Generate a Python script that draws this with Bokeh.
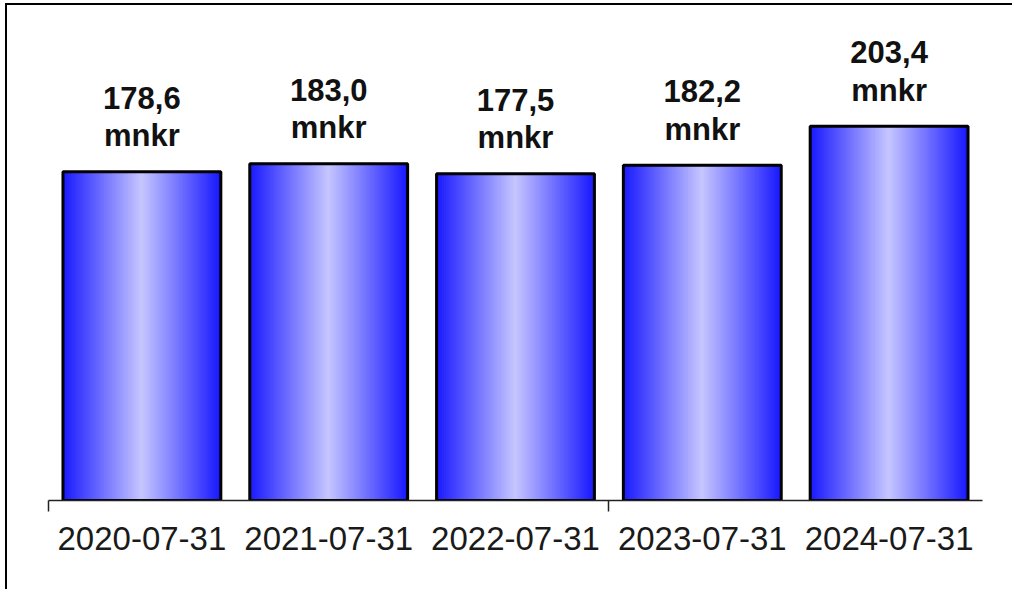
import numpy as np
from bokeh.plotting import figure
from bokeh.models import Range1d, FixedTicker, ColumnDataSource
from bokeh.core.properties import value
from bokeh.embed import file_html
from bokeh.resources import INLINE

# ---- data ----
categories = ["2020-07-31", "2021-07-31", "2022-07-31", "2023-07-31", "2024-07-31"]
values = [178.6, 183.0, 177.5, 182.2, 203.4]
value_labels = ["178,6", "183,0", "177,5", "182,2", "203,4"]
unit_label = "mnkr"

xs = list(range(len(categories)))
bar_w = 0.845

p = figure(width=1007, height=586, output_backend="svg", toolbar_location=None,
           x_range=Range1d(-0.5, len(categories) - 0.5), y_range=Range1d(0, 269),
           min_border_left=41, min_border_right=32, min_border_top=0, min_border_bottom=91,
           background_fill_color="white", border_fill_color="white",
           styles={"border-left": "2px solid black", "border-top": "2px solid black",
                   "margin-left": "5px", "margin-top": "3px"})
p.outline_line_color = None
p.xgrid.visible = False
p.ygrid.visible = False
p.yaxis.visible = False

# gradient strips
N = 80
edge = np.array([24, 24, 255], dtype=float)
center = np.array([198, 198, 255], dtype=float)
sx, stop, scol = [], [], []
for i, v in zip(xs, values):
    for k in range(N):
        u = (k + 0.5) / N
        t = abs(2 * u - 1)
        c = center + (edge - center) * t
        sx.append(i - bar_w / 2 + u * bar_w)
        stop.append(v)
        scol.append("#%02x%02x%02x" % tuple(int(round(q)) for q in c))
src = ColumnDataSource(dict(x=sx, top=stop, color=scol))
p.vbar(x="x", top="top", bottom=0, width=bar_w / N * 1.5, source=src,
       fill_color="color", line_color=None)

# outlines
p.vbar(x=xs, top=values, bottom=0, width=bar_w, fill_color=None,
       line_color="black", line_width=3)

# value labels
p.text(x=xs, y=values, text=value_labels, y_offset=-74, text_align="center",
       text_baseline="alphabetic", text_font=value("Liberation Sans"),
       text_font_size="31px", text_font_style="bold", text_color="#111111")
p.text(x=xs, y=values, text=[unit_label] * len(xs), y_offset=-36, text_align="center",
       text_baseline="alphabetic", text_font=value("Liberation Sans"),
       text_font_size="31px", text_font_style="bold", text_color="#111111")

ax = p.xaxis[0]
ax.ticker = FixedTicker(ticks=xs, minor_ticks=[-0.5, 2.5])
ax.major_label_overrides = {i: c for i, c in zip(xs, categories)}
ax.major_tick_out = 0
ax.major_tick_in = 0
ax.minor_tick_out = 11
ax.minor_tick_in = 0
ax.minor_tick_line_color = "#222222"
ax.minor_tick_line_width = 1.5
ax.axis_line_color = "#222222"
ax.axis_line_width = 1.5
ax.major_label_standoff = 15
ax.major_label_text_font = "Liberation Sans"
ax.major_label_text_font_size = "33px"
ax.major_label_text_color = "#1a1a1a"

open("out.html", "w").write(file_html(p, INLINE))
